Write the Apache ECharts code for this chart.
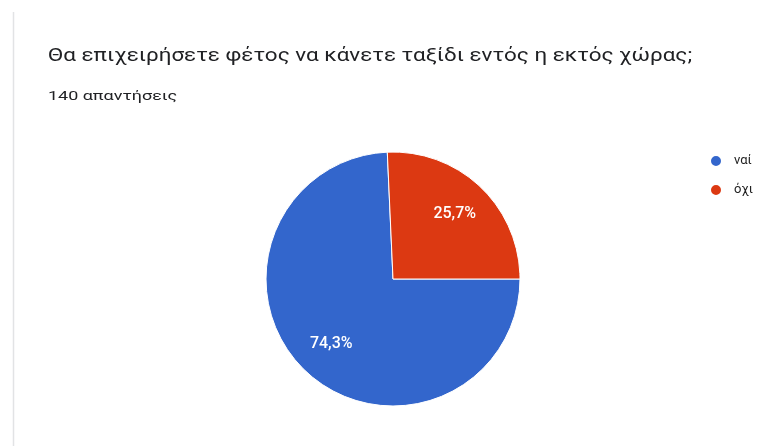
<!DOCTYPE html>
<html>
<head>
<meta charset="utf-8">
<script src="https://cdn.jsdelivr.net/npm/echarts@6/dist/echarts.min.js"></script>
<style>
  html, body { margin: 0; padding: 0; background: #ffffff; }
  #chart { width: 761px; height: 446px; }
</style>
</head>
<body>
<div id="chart"></div>
<script>
// Survey question and response summary
const questionText = 'Θα επιχειρήσετε φέτος να κάνετε ταξίδι εντός η εκτός χώρας;';
const responseCount = 140;
const responseSuffix = 'απαντήσεις';

// Answers and number of responses per answer
const categories = ['ναί', 'όχι'];
const counts = [104, 36];
const sliceColors = ['#3366cc', '#dc3912'];

const total = counts.reduce((a, b) => a + b, 0);
const pieData = categories.map((name, i) => ({
  name: name,
  value: counts[i],
  itemStyle: { color: sliceColors[i] }
}));
// same slices, invisible, used only to place the percentage labels
const labelData = categories.map((name, i) => ({
  name: name,
  value: counts[i],
  itemStyle: { color: 'rgba(0,0,0,0)' }
}));

const fontFamily = 'Roboto, "Noto Sans", Arial, sans-serif';
const pieCenter = [393, 279];
const pieRadius = 127;

const chart = echarts.init(document.getElementById('chart'), null, { renderer: 'canvas' });

chart.setOption({
  animation: false,
  backgroundColor: '#ffffff',
  graphic: [{
    // left edge of the card
    type: 'line',
    shape: { x1: 13.5, y1: 12, x2: 13.5, y2: 446 },
    style: { stroke: '#e2e3e5', lineWidth: 1.5 },
    silent: true,
    z: -1
  }, {
    type: 'text',
    x: 48,
    y: 56,
    scaleX: 1.245,
    style: {
      text: questionText,
      fontFamily: fontFamily,
      fontSize: 18,
      fill: '#202124',
      verticalAlign: 'middle'
    },
    silent: true
  }, {
    type: 'text',
    x: 48,
    y: 97,
    scaleX: 1.38,
    style: {
      text: responseCount + ' ' + responseSuffix,
      fontFamily: fontFamily,
      fontSize: 13,
      fill: '#202124',
      verticalAlign: 'middle'
    },
    silent: true
  }],
  legend: {
    orient: 'vertical',
    left: 709,
    top: 154,
    padding: 0,
    icon: 'circle',
    itemWidth: 12,
    itemHeight: 12,
    itemGap: 15,
    data: categories,
    textStyle: { fontFamily: fontFamily, fontSize: 13, color: '#222222', padding: [0, 0, 0, 7] }
  },
  series: [{
    type: 'pie',
    center: pieCenter,
    radius: [0, pieRadius],
    startAngle: 0,
    clockwise: true,
    data: pieData,
    label: { show: false },
    labelLine: { show: false },
    itemStyle: { borderColor: '#ffffff', borderWidth: 1 },
    emphasis: { disabled: true }
  }, {
    type: 'pie',
    center: pieCenter,
    radius: [0, pieRadius * 1.36],
    startAngle: 0,
    clockwise: true,
    silent: true,
    legendHoverLink: false,
    data: labelData,
    labelLine: { show: false },
    label: {
      show: true,
      position: 'inside',
      color: '#ffffff',
      fontFamily: fontFamily,
      fontSize: 16,
      fontWeight: 500,
      formatter: p => (p.value / total * 100).toFixed(1).replace('.', ',') + '%'
    },
    emphasis: { disabled: true }
  }]
});
</script>
</body>
</html>
